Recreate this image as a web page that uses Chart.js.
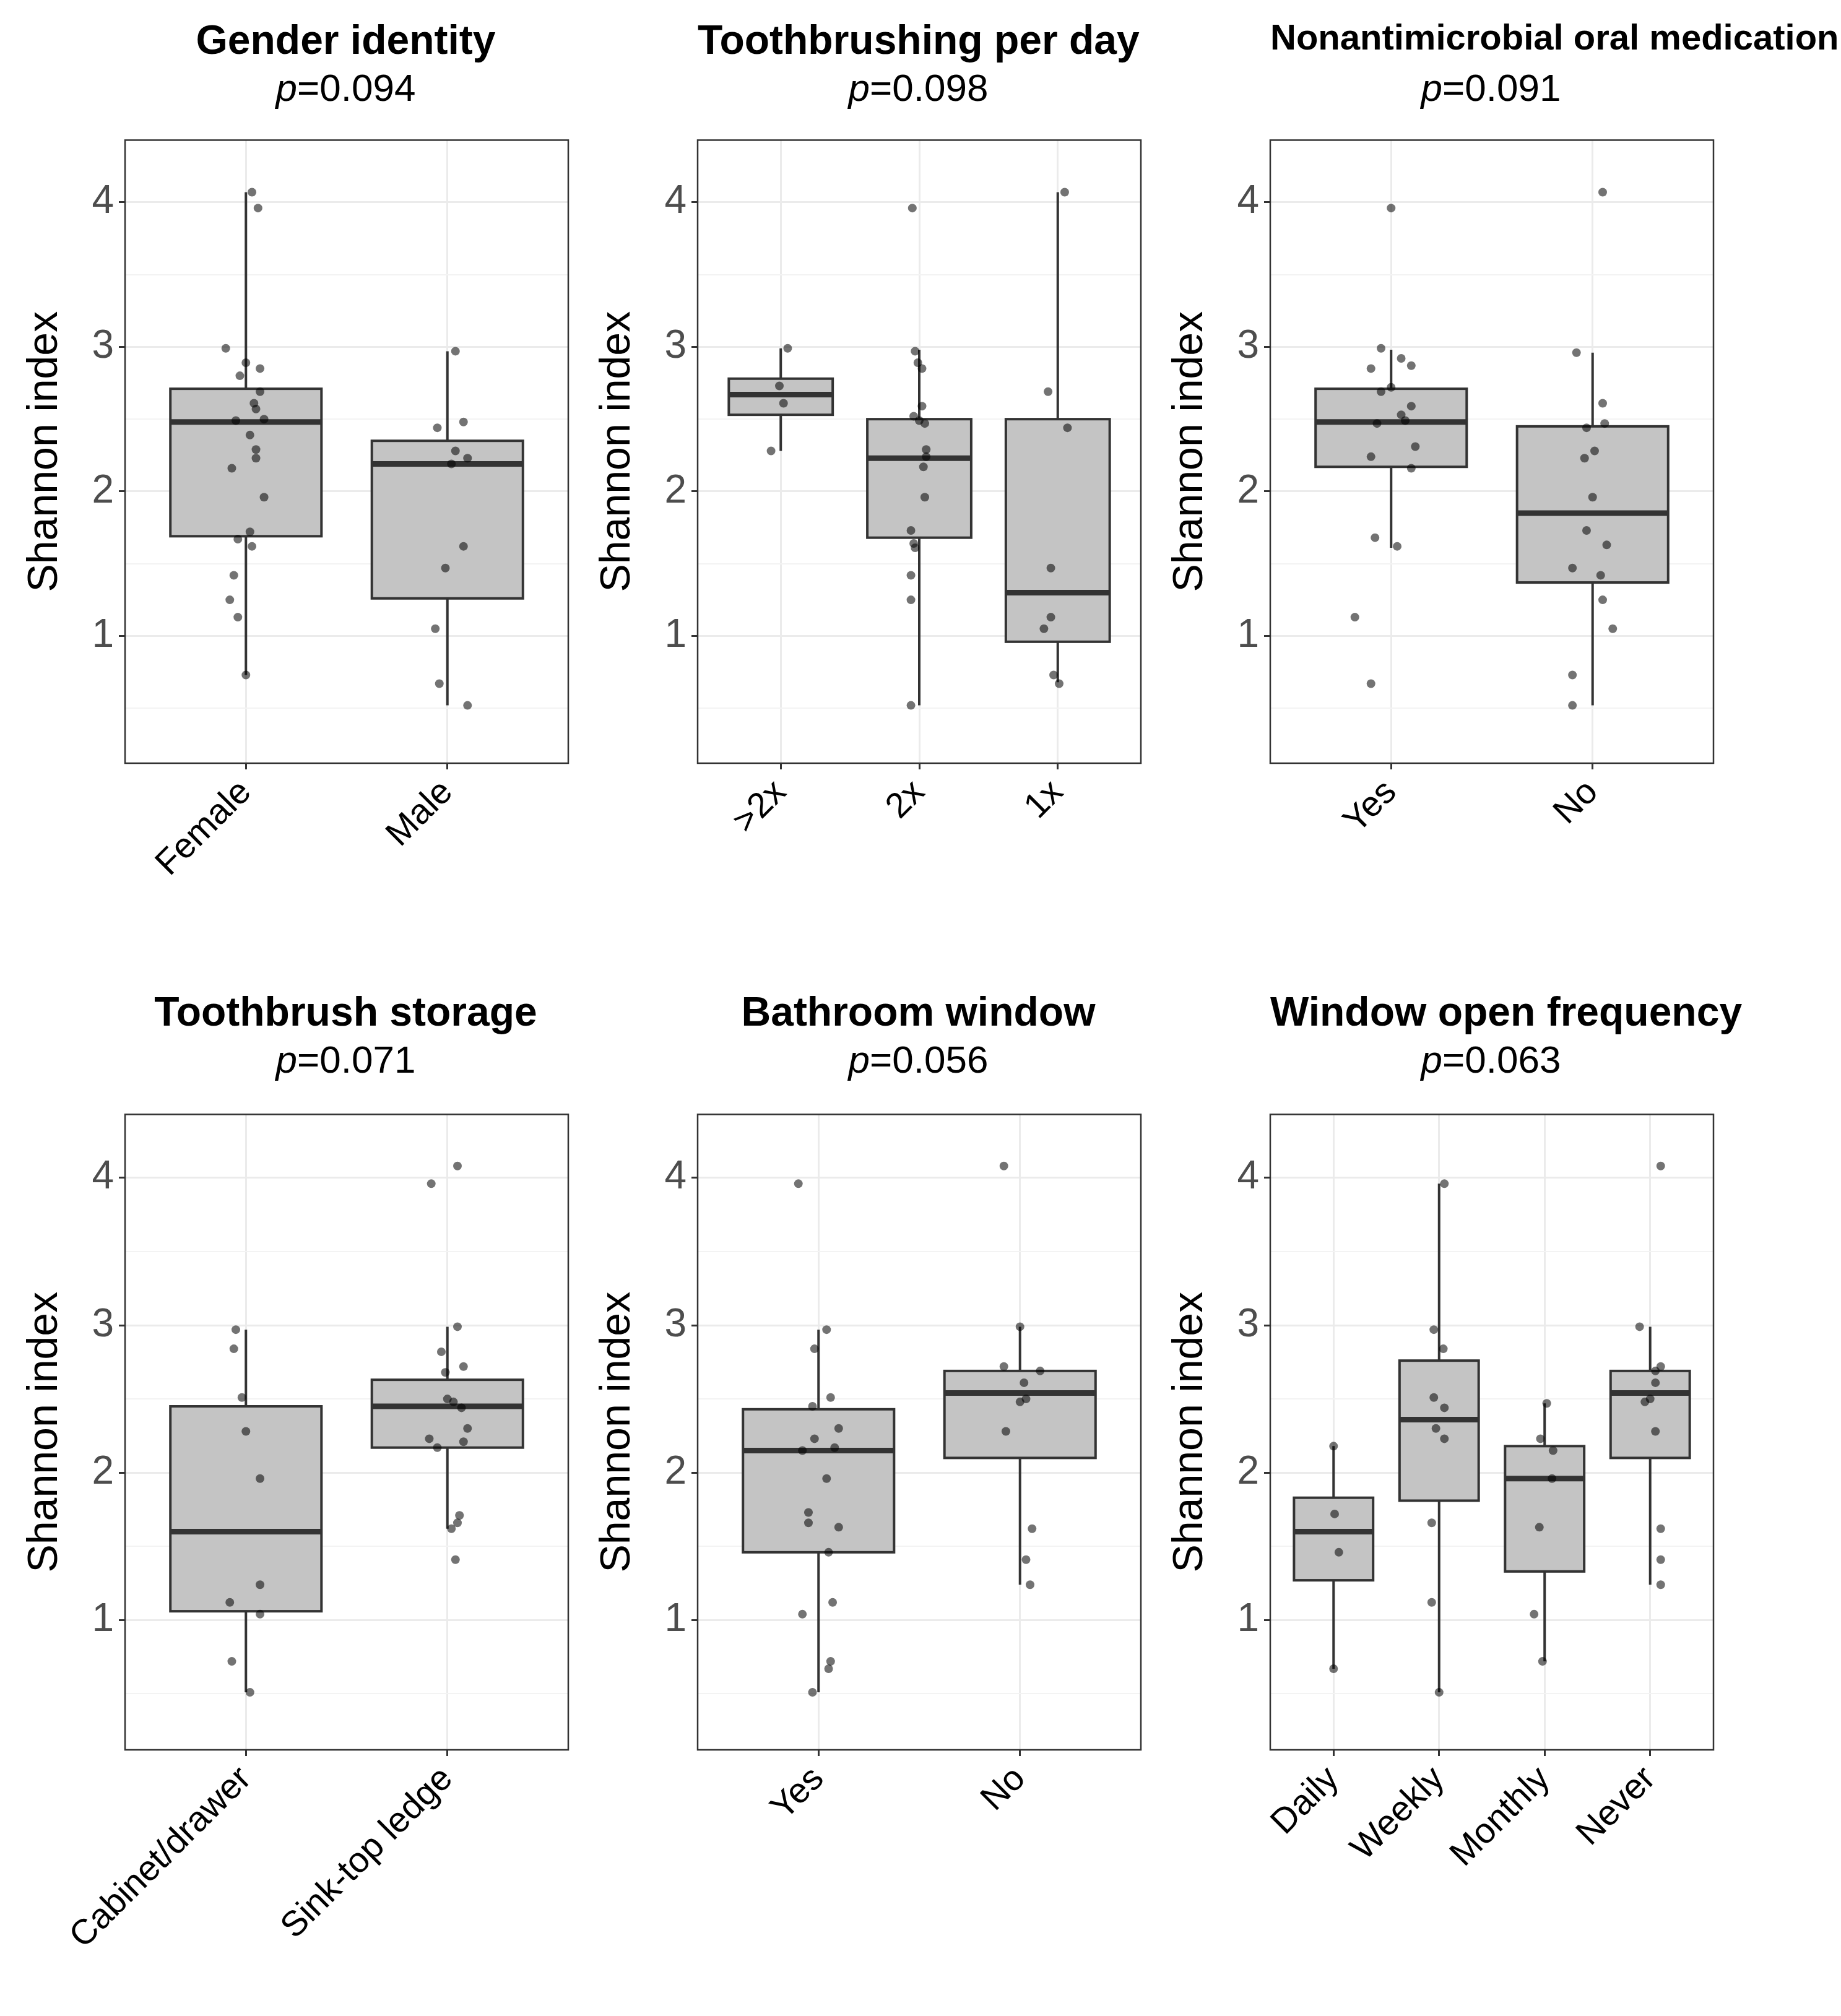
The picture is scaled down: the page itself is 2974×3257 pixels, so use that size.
<!DOCTYPE html>
<html>
<head>
<meta charset="utf-8">
<script src="https://cdn.jsdelivr.net/npm/chart.js@4"></script>
<style>
  body { margin: 0; background: #fff; width: 2974px; height: 3257px; position: relative; overflow: hidden;
         font-family: "Liberation Sans", Arial, sans-serif; }
  canvas { position: absolute; }
  .ttl { position: absolute; text-align: center; width: 713px; font-weight: bold; font-size: 66px; color: #000; white-space: nowrap; }
  .pv { position: absolute; text-align: center; width: 713px; font-size: 62px; color: #000; }
</style>
</head>
<body>
<script>
// box stats per category: [lower whisker, q1, median, q3, upper whisker]
let gender_cats = ["Female", "Male"];
let gender_box = [[0.73, 1.69, 2.48, 2.71, 4.07], [0.52, 1.26, 2.19, 2.35, 2.97]];
let gender_y = [
  [4.07, 3.96, 2.99, 2.89, 2.85, 2.80, 2.69, 2.61, 2.57, 2.49, 2.50, 2.39, 2.29, 2.23, 2.16, 1.96, 1.72, 1.67, 1.62, 1.42, 1.25, 1.13, 0.73],
  [2.97, 2.44, 2.48, 2.28, 2.23, 2.19, 1.62, 1.47, 1.05, 0.67, 0.52]
];
let gender_dx = [
  [0.03, 0.06, -0.1, 0, 0.07, -0.03, 0.07, 0.04, 0.05, -0.05, 0.09, 0.02, 0.05, 0.05, -0.07, 0.09, 0.02, -0.04, 0.03, -0.06, -0.08, -0.04, 0],
  [0.04, -0.05, 0.08, 0.04, 0.1, 0.02, 0.08, -0.01, -0.06, -0.04, 0.1]
];

let brush_cats = [">2x", "2x", "1x"];
let brush_box = [[2.28, 2.53, 2.67, 2.78, 2.99], [0.52, 1.68, 2.23, 2.50, 2.98], [0.68, 0.96, 1.30, 2.50, 4.07]];
let brush_y = [
  [2.99, 2.73, 2.61, 2.28],
  [3.96, 2.97, 2.89, 2.85, 2.59, 2.52, 2.49, 2.47, 2.29, 2.24, 2.17, 1.96, 1.73, 1.64, 1.61, 1.42, 1.25, 0.52],
  [4.07, 2.69, 2.44, 1.47, 1.13, 1.05, 0.73, 0.67]
];
let brush_dx = [
  [0.05, -0.01, 0.02, -0.07],
  [-0.05, -0.03, -0.01, 0.02, 0.02, -0.04, 0, 0.04, 0.05, 0.05, 0.03, 0.04, -0.06, -0.04, -0.03, -0.06, -0.06, -0.06],
  [0.05, -0.07, 0.07, -0.05, -0.05, -0.1, -0.03, 0.01]
];

let med_cats = ["Yes", "No"];
let med_box = [[1.61, 2.17, 2.48, 2.71, 2.98], [0.52, 1.37, 1.85, 2.45, 2.96]];
let med_y = [
  [3.96, 2.99, 2.92, 2.85, 2.87, 2.72, 2.69, 2.59, 2.53, 2.49, 2.47, 2.31, 2.24, 2.16, 1.68, 1.62, 1.13, 0.67],
  [4.07, 2.96, 2.61, 2.47, 2.44, 2.28, 2.23, 1.96, 1.73, 1.63, 1.47, 1.42, 1.25, 1.05, 0.73, 0.52]
];
let med_dx = [
  [0, -0.05, 0.05, -0.1, 0.1, 0, -0.05, 0.1, 0.05, 0.07, -0.07, 0.12, -0.1, 0.1, -0.08, 0.03, -0.18, -0.1],
  [0.05, -0.08, 0.05, 0.06, -0.03, 0.01, -0.04, 0, -0.03, 0.07, -0.1, 0.04, 0.05, 0.1, -0.1, -0.1]
];

let store_cats = ["Cabinet/drawer", "Sink-top ledge"];
let store_box = [[0.51, 1.06, 1.60, 2.45, 2.97], [1.62, 2.17, 2.45, 2.63, 2.99]];
let store_y = [
  [2.97, 2.84, 2.51, 2.28, 1.96, 1.24, 1.12, 1.04, 0.72, 0.51],
  [4.08, 3.96, 2.99, 2.82, 2.72, 2.68, 2.50, 2.48, 2.44, 2.30, 2.23, 2.21, 2.17, 1.71, 1.66, 1.62, 1.41]
];
let store_dx = [
  [-0.05, -0.06, -0.02, 0, 0.07, 0.07, -0.08, 0.07, -0.07, 0.02],
  [0.05, -0.08, 0.05, -0.03, 0.08, -0.01, 0, 0.03, 0.07, 0.1, -0.09, 0.08, -0.05, 0.06, 0.05, 0.02, 0.04]
];

let win_cats = ["Yes", "No"];
let win_box = [[0.51, 1.46, 2.15, 2.43, 2.97], [1.24, 2.10, 2.54, 2.69, 2.99]];
let win_y = [
  [3.96, 2.97, 2.84, 2.51, 2.45, 2.30, 2.23, 2.17, 2.15, 1.96, 1.73, 1.66, 1.63, 1.46, 1.12, 1.04, 0.72, 0.67, 0.51],
  [4.08, 2.99, 2.72, 2.69, 2.61, 2.50, 2.48, 2.28, 1.62, 1.41, 1.24]
];
let win_dx = [
  [-0.1, 0.04, -0.02, 0.06, -0.03, 0.1, -0.02, 0.08, -0.08, 0.04, -0.05, -0.05, 0.1, 0.05, 0.07, -0.08, 0.06, 0.05, -0.03],
  [-0.08, 0, -0.08, 0.1, 0.02, 0.03, 0, -0.07, 0.06, 0.03, 0.05]
];

let freq_cats = ["Daily", "Weekly", "Monthly", "Never"];
let freq_box = [[0.67, 1.27, 1.60, 1.83, 2.18], [0.51, 1.81, 2.36, 2.76, 3.96], [0.72, 1.33, 1.96, 2.18, 2.47], [1.24, 2.10, 2.54, 2.69, 2.99]];
let freq_y = [
  [2.18, 1.72, 1.46, 0.67],
  [3.96, 2.97, 2.84, 2.51, 2.44, 2.30, 2.23, 1.66, 1.12, 0.51],
  [2.47, 2.23, 2.15, 1.96, 1.63, 1.04, 0.72],
  [4.08, 2.99, 2.72, 2.69, 2.61, 2.50, 2.48, 2.28, 1.62, 1.41, 1.24]
];
let freq_dx = [
  [0, 0.01, 0.05, 0],
  [0.05, -0.05, 0.04, -0.05, 0.05, -0.03, 0.05, -0.07, -0.07, 0],
  [0.02, -0.04, 0.08, 0.07, -0.05, -0.1, -0.02],
  [0.1, -0.1, 0.1, 0.05, 0.05, 0.0, -0.05, 0.05, 0.1, 0.1, 0.1]
];

let titles = ["Gender identity", "Toothbrushing per day", "Nonantimicrobial oral medication",
              "Toothbrush storage", "Bathroom window", "Window open frequency"];
let pvals = ["0.094", "0.098", "0.091", "0.071", "0.056", "0.063"];

let panels = [
  [gender_cats, gender_box, gender_y, gender_dx],
  [brush_cats, brush_box, brush_y, brush_dx],
  [med_cats, med_box, med_y, med_dx],
  [store_cats, store_box, store_y, store_dx],
  [win_cats, win_box, win_y, win_dx],
  [freq_cats, freq_box, freq_y, freq_dx],
];

const FONT = '"Liberation Sans", Arial, sans-serif';
const COL_W = 925, Y_AXIS_W = 170, PAD_L = 32;

let boxPlugin = {
  id: "boxes",
  beforeDatasetsDraw(chart) {
    let { ctx, scales: { x, y } } = chart;
    let box = chart.options.plugins.boxes.stats;
    ctx.save();
    box.forEach((b, i) => {
      let cx = x.getPixelForValue(i + 1);
      let half = (x.getPixelForValue(1.375) - x.getPixelForValue(1));
      ctx.strokeStyle = "#333333";
      ctx.lineWidth = 4;
      ctx.beginPath();
      ctx.moveTo(cx, y.getPixelForValue(b[0]));
      ctx.lineTo(cx, y.getPixelForValue(b[1]));
      ctx.moveTo(cx, y.getPixelForValue(b[3]));
      ctx.lineTo(cx, y.getPixelForValue(b[4]));
      ctx.stroke();
      let top = y.getPixelForValue(b[3]), bot = y.getPixelForValue(b[1]);
      ctx.fillStyle = "#c4c4c4";
      ctx.fillRect(cx - half, top, half * 2, bot - top);
      ctx.strokeRect(cx - half, top, half * 2, bot - top);
      ctx.lineWidth = 9;
      ctx.beginPath();
      ctx.moveTo(cx - half, y.getPixelForValue(b[2]));
      ctx.lineTo(cx + half, y.getPixelForValue(b[2]));
      ctx.stroke();
    });
    ctx.restore();
  },
  afterDraw(chart) {
    let a = chart.chartArea, ctx = chart.ctx;
    ctx.save();
    ctx.strokeStyle = "#333333";
    ctx.lineWidth = 2.5;
    ctx.strokeRect(a.left, a.top, a.right - a.left, a.bottom - a.top);
    ctx.restore();
  },
};

panels.forEach(([cats, box, ys, dxs], p) => {
  let col = p % 3, row = Math.floor(p / 3);
  let left = col * COL_W;
  let canvasTop = row === 0 ? 180 : 1754;
  let canvasH = row === 0 ? 1380 : 3257 - 1754;
  let xAxisH = row === 0 ? 327 : 430;
  let titleY = row === 0 ? 26 : 1596;
  let plotLeft = left + PAD_L + Y_AXIS_W;

  let t = document.createElement("div");
  t.className = "ttl";
  t.style.left = plotLeft + "px";
  t.style.top = titleY + "px";
  t.style.fontSize = p === 2 ? "58px" : "66px";
  t.textContent = titles[p];
  document.body.appendChild(t);
  let pv = document.createElement("div");
  pv.className = "pv";
  pv.style.left = plotLeft + "px";
  pv.style.top = (titleY + 80) + "px";
  pv.innerHTML = "<i>p</i>=" + pvals[p];
  document.body.appendChild(pv);

  let cv = document.createElement("canvas");
  cv.width = COL_W; cv.height = canvasH;
  cv.style.left = left + "px"; cv.style.top = canvasTop + "px";
  cv.style.width = COL_W + "px"; cv.style.height = canvasH + "px";
  document.body.appendChild(cv);

  let pts = [];
  ys.forEach((arr, i) => arr.forEach((v, j) => pts.push({ x: i + 1 + dxs[i][j], y: v })));

  new Chart(cv.getContext("2d"), {
    type: "scatter",
    data: { datasets: [{ data: pts, backgroundColor: "rgba(0,0,0,0.55)", borderWidth: 0, pointRadius: 7 }] },
    options: {
      responsive: false, animation: false, devicePixelRatio: 1,
      layout: { padding: { top: 0, right: 0, left: PAD_L, bottom: 0 } },
      plugins: { legend: { display: false }, tooltip: { enabled: false }, boxes: { stats: box } },
      scales: {
        x: {
          type: "linear", min: 0.4, max: cats.length + 0.6,
          afterBuildTicks: (s) => { s.ticks = cats.map((c, i) => ({ value: i + 1 })); },
          afterFit: (s) => { s.height = xAxisH; },
          ticks: { callback: (v) => cats[v - 1], color: "#000", font: { family: FONT, size: 57 },
                   minRotation: 45, maxRotation: 45, padding: 4 },
          grid: { color: "#ebebeb", lineWidth: 3, tickColor: "#333333", tickLength: 10 },
          border: { display: false },
        },
        y: {
          min: 0.12, max: 4.43,
          afterBuildTicks: (s) => { s.ticks = [0.5, 1, 1.5, 2, 2.5, 3, 3.5, 4].map((v) => ({ value: v })); },
          afterFit: (s) => { s.width = Y_AXIS_W; },
          ticks: { callback: (v) => (Number.isInteger(v) ? String(v) : ""), color: "#4d4d4d",
                   font: { family: FONT, size: 64 }, padding: 8 },
          grid: {
            color: (c) => (Number.isInteger(c.tick.value) ? "#ebebeb" : "#f3f3f3"),
            lineWidth: (c) => (Number.isInteger(c.tick.value) ? 3 : 2),
            tickColor: (c) => (Number.isInteger(c.tick.value) ? "#333333" : "rgba(0,0,0,0)"),
            tickLength: 10,
          },
          border: { display: false },
          title: { display: true, text: "Shannon index", color: "#000", font: { family: FONT, size: 68 }, padding: 0 },
        },
      },
    },
    plugins: [boxPlugin],
  });
});
</script>
</body>
</html>
